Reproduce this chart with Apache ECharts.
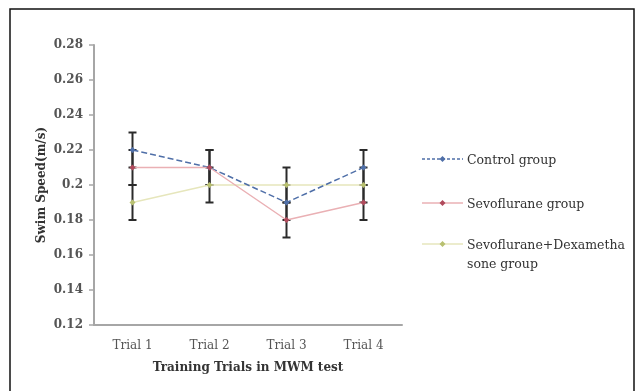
<!DOCTYPE html>
<html><head><meta charset="utf-8">
<script src="https://cdn.jsdelivr.net/npm/echarts@6/dist/echarts.min.js"></script>
<style>html,body{margin:0;padding:0;background:#fff}#c{width:636px;height:391px}</style>
</head><body><div id="c"></div>
<script>
var categories = ['Trial 1', 'Trial 2', 'Trial 3', 'Trial 4'];
var seriesNames = ['Control group', 'Sevoflurane group', 'Sevoflurane+Dexametha\nsone group'];
var control = [0.22, 0.21, 0.19, 0.21];
var sevo = [0.21, 0.21, 0.18, 0.19];
var dexa = [0.19, 0.20, 0.20, 0.20];
var controlErr = [0.01, 0.01, 0.01, 0.01];
var sevoErr = [0.01, 0.01, 0.01, 0.01];
var dexaErr = [0.01, 0.01, 0.01, 0.01];
var yTicks = [0.12, 0.14, 0.16, 0.18, 0.20, 0.22, 0.24, 0.26, 0.28];

var FONT = 'DejaVu Serif';
var lineColors = ['#4f6fa8', '#eab0b4', '#e6e6bc'];
var markColors = ['#4f6fa8', '#b04a5c', '#b8c070'];
var lineTypes = ['dashed', 'solid', 'solid'];
var legendY = [159, 203, 244];

var chart = echarts.init(document.getElementById('c'), null, {renderer: 'canvas'});

function errData(vals, errs) {
  return vals.map(function (v, i) { return [i, v - errs[i], v + errs[i]]; });
}
function errSeries(vals, errs) {
  return {
    type: 'custom',
    data: errData(vals, errs),
    silent: true,
    z: 1,
    renderItem: function (params, api) {
      var x = api.value(0);
      var lo = api.coord([x, api.value(1)]);
      var hi = api.coord([x, api.value(2)]);
      var hw = 4;
      var st = {stroke: '#2a2a2a', lineWidth: 2};
      return {
        type: 'group',
        children: [
          {type: 'line', shape: {x1: lo[0], y1: lo[1], x2: hi[0], y2: hi[1]}, style: st},
          {type: 'line', shape: {x1: lo[0] - hw, y1: lo[1], x2: lo[0] + hw, y2: lo[1]}, style: st},
          {type: 'line', shape: {x1: hi[0] - hw, y1: hi[1], x2: hi[0] + hw, y2: hi[1]}, style: st}
        ]
      };
    }
  };
}

var graphics = [{
  type: 'rect',
  shape: {x: 10, y: 9, width: 624, height: 390},
  style: {fill: 'none', stroke: '#111', lineWidth: 1.5},
  silent: true
}];
seriesNames.forEach(function (n, i) {
  var y = legendY[i];
  graphics.push({
    type: 'line', shape: {x1: 422, y1: y, x2: 463, y2: y},
    style: {stroke: lineColors[i], lineWidth: 1.5, lineDash: lineTypes[i] === 'dashed' ? [3, 2] : null}
  });
  graphics.push({
    type: 'polygon', shape: {points: [[442.5, y - 3], [445.5, y], [442.5, y + 3], [439.5, y]]},
    style: {fill: markColors[i]}
  });
  graphics.push({
    type: 'text', x: 467, y: y - 8,
    style: {text: n, fill: '#333', font: '12.5px "DejaVu Serif"', lineHeight: 19, verticalAlign: 'top'}
  });
});

var option = {
  animation: false,
  backgroundColor: '#fff',
  grid: {left: 94, right: 234, top: 45, bottom: 66},
  xAxis: {
    type: 'category',
    data: categories,
    boundaryGap: true,
    axisLine: {lineStyle: {color: '#a6a6a6', width: 2}},
    axisTick: {show: false},
    axisLabel: {color: '#555', fontFamily: FONT, fontSize: 12, margin: 15},
    name: 'Training Trials in MWM test',
    nameLocation: 'middle',
    nameGap: 37,
    nameTextStyle: {color: '#333', fontFamily: FONT, fontSize: 12, fontWeight: 'bold'}
  },
  yAxis: {
    type: 'value',
    min: yTicks[0],
    max: yTicks[yTicks.length - 1],
    interval: 0.02,
    splitLine: {show: false},
    axisLine: {show: true, lineStyle: {color: '#a6a6a6', width: 2}},
    axisTick: {show: true, length: 5, lineStyle: {color: '#a6a6a6', width: 1.5}},
    axisLabel: {
      color: '#555', fontFamily: FONT, fontSize: 12, fontWeight: 'bold', margin: 11,
      formatter: function (v) { return String(Math.round(v * 100) / 100); }
    },
    name: 'Swim Speed(m/s)',
    nameLocation: 'middle',
    nameGap: 46,
    nameRotate: 90,
    nameTextStyle: {color: '#333', fontFamily: FONT, fontSize: 12, fontWeight: 'bold'}
  },
  legend: {show: false},
  graphic: graphics,
  series: [
    errSeries(control, controlErr),
    errSeries(sevo, sevoErr),
    errSeries(dexa, dexaErr),
    {
      name: seriesNames[0], type: 'line', data: control, z: 3,
      symbol: 'diamond', symbolSize: 6,
      lineStyle: {color: lineColors[0], width: 1.5, type: 'dashed'},
      itemStyle: {color: markColors[0]}
    },
    {
      name: seriesNames[1], type: 'line', data: sevo, z: 3,
      symbol: 'diamond', symbolSize: 6,
      lineStyle: {color: lineColors[1], width: 1.5},
      itemStyle: {color: markColors[1]}
    },
    {
      name: seriesNames[2], type: 'line', data: dexa, z: 2,
      symbol: 'diamond', symbolSize: 6,
      lineStyle: {color: lineColors[2], width: 1.5},
      itemStyle: {color: markColors[2]}
    }
  ]
};
chart.setOption(option);
</script>
</body></html>
